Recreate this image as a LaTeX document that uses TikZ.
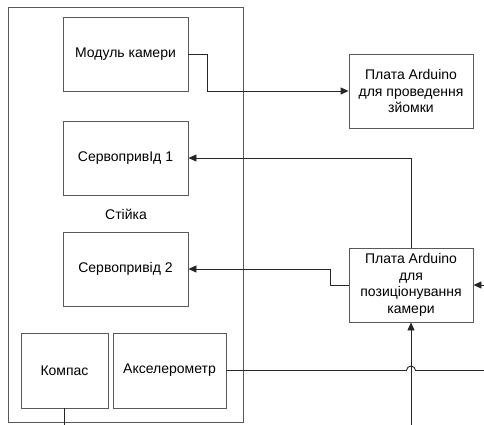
\documentclass[tikz,border=0pt]{standalone}
\usepackage{fontspec}
\setmainfont{Liberation Sans}
\usetikzlibrary{arrows.meta}
\begin{document}
\begin{tikzpicture}[x=1pt,y=1pt,
  box/.style={draw=black!65,line width=0.9pt,fill=white,inner sep=2pt,align=center,
    font=\fontsize{14}{16.5}\selectfont,anchor=center},
  conn/.style={draw=black!85,line width=0.9pt},
  arr/.style={conn,-{Triangle[length=8pt,width=7pt]}}]
\useasboundingbox (0,0) rectangle (484,-425);
% outer stand
\node[box,minimum width=235pt,minimum height=415pt] (stand) at (125.5,-214.5) {};
\node[font=\fontsize{14}{16.5}\selectfont] (standlbl) at (126,-214) {Стійка};
\node[box,minimum width=125pt,minimum height=74pt] (cam) at (125.5,-54) {Модуль камери};
\node[box,minimum width=125pt,minimum height=74pt] (servo1) at (125.5,-158) {СервопривІд 1};
\node[box,minimum width=125pt,minimum height=74pt] (servo2) at (125.5,-269) {Сервопривід 2};
\node[box,minimum width=87pt,minimum height=75pt] (compass) at (64.5,-370.5) {Компас};
\node[box,minimum width=113pt,minimum height=75pt] (accel) at (169.5,-370.5) {Акселерометр};
\node[box,minimum width=124pt,minimum height=74pt] (board1) at (411,-91) {Плата Arduino\\для проведення\\зйомки};
\node[box,minimum width=124pt,minimum height=74pt] (board2) at (411,-285) {Плата Arduino\\для\\позиціонування\\камери};
\coordinate (bottomin) at (411,-425);
\coordinate (rightin) at (484,-285);
\coordinate (rightout) at (484,-370.5);
\coordinate (compout) at (64.5,-425);
% connectors
\draw[arr] (cam.east) -- ++(19,0) |- (board1.west);
\draw[arr] (board2.north) |- (servo1.east);
\draw[arr] (board2.west) -- ++(-18,0) |- (servo2.east);
\draw[arr] (bottomin) -- (board2.south);
\draw[arr] (rightin) -- (board2.east);
\draw[conn] (accel.east) -- (406.5,-370.5) arc (180:0:4.5) -- (rightout);
\draw[conn] (compass.south) -- (compout);
\end{tikzpicture}
\end{document}
